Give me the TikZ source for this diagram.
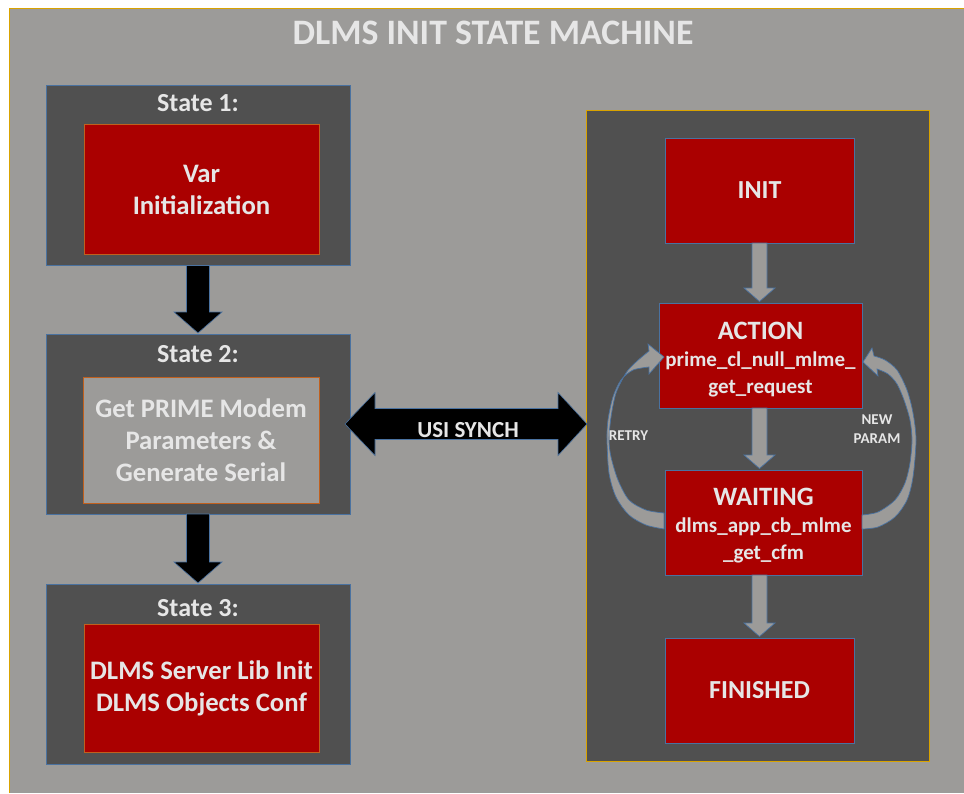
\documentclass[tikz,border=0pt]{standalone}
\usepackage{fontspec}
\setmainfont{Carlito}
\usetikzlibrary{calc}
\definecolor{bggray}{HTML}{9C9B99}
\definecolor{darkfill}{HTML}{505050}
\definecolor{boxred}{HTML}{AA0000}
\definecolor{txtgray}{HTML}{E6E6E6}
\definecolor{bord}{HTML}{4A72A0}
\definecolor{orng}{HTML}{C0601E}
\definecolor{gold}{HTML}{D9A300}
\newcommand\fsz[2]{\fontsize{#1}{#2}\selectfont\bfseries}
\newcommand\blkdown[2]{\path[blkarrow] let \p1=(#1.south), \p2=(#2.north) in
  (\x1-11.5pt,\y1) -- (\x1-11.5pt,\y2+22pt) -- (\x1-24pt,\y2+22pt) -- (\x1,\y2+1pt)
  -- (\x1+24pt,\y2+22pt) -- (\x1+11.5pt,\y2+22pt) -- (\x1+11.5pt,\y1) -- cycle;}
\newcommand\grydown[3]{\path[gryarrow] let \p1=(#1.south), \p2=(#2.north), \p3=(#3) in
  (\x3-7.5pt,\y1) -- (\x3-7.5pt,\y2+15pt) -- (\x3-15.5pt,\y2+15pt) -- (\x3,\y2+1.5pt)
  -- (\x3+15.5pt,\y2+15pt) -- (\x3+7.5pt,\y2+15pt) -- (\x3+7.5pt,\y1) -- cycle;}
\begin{document}
\begin{tikzpicture}[x=1pt,y=-1pt,
  statebox/.style={draw=bord,line width=0.8pt,fill=darkfill,inner sep=0pt,outer sep=0pt,
    minimum width=304pt,minimum height=180pt},
  innerred/.style={draw=orng,line width=0.7pt,fill=boxred,inner sep=0pt,outer sep=0pt,
    minimum width=235pt,minimum height=130pt,text=txtgray,align=center,font=\fsz{26.7}{32}},
  innergray/.style={draw=orng,line width=0.7pt,fill=bggray,inner sep=0pt,outer sep=0pt,
    minimum width=236pt,minimum height=126pt,text=txtgray,align=center,font=\fsz{26.7}{32}},
  staterd/.style={draw=bord,line width=0.7pt,fill=boxred,inner sep=0pt,outer sep=0pt,
    minimum height=105pt,text=txtgray,align=center,font=\fsz{21}{26.5}},
  lbl/.style={text=txtgray,font=\fsz{26}{32},inner sep=0pt,anchor=base},
  blkarrow/.style={fill=black,draw=bord,line width=0.6pt},
  gryarrow/.style={fill=bggray,draw=bord,line width=0.7pt},
  curvarrow/.style={fill=bggray,draw=bord,line width=0.7pt},
  small/.style={text=txtgray,font=\fsz{15}{19},align=center,inner sep=0pt}]
\useasboundingbox (0,0) rectangle (964,793);
\fill[white] (0,0) rectangle (964,793);
\fill[bggray] (9,8) rectangle (964,793);
\draw[gold,line width=0.9pt] (9,793) -- (9,8) -- (964,8);
\node[text=txtgray,font=\fsz{35.8}{40},inner sep=0pt,anchor=base] (title) at (493,44) {DLMS INIT STATE MACHINE};
% left column
\node[statebox] (s1) at (198,175.5) {};
\node[statebox] (s2) at (198,424) {};
\node[statebox] (s3) at (198,674) {};
\node[lbl] (l1) at (198,111) {State 1:};
\node[lbl] (l2) at (198,362) {State 2:};
\node[lbl] (l3) at (198,616) {State 3:};
\node[innerred] (i1) at (201.5,189.5) {Var\\Initialization};
\node[innergray] (i2) at (201,440) {Get PRIME Modem\\Parameters \&\\Generate Serial};
\node[innerred, minimum height=128pt] (i3) at (201.5,688) {DLMS Server Lib Init\\DLMS Objects Conf};
\blkdown{s1}{s2}
\blkdown{s2}{s3}
% right column
\node[draw=gold,line width=1pt,fill=darkfill,minimum width=343pt,minimum height=651pt,inner sep=0pt,outer sep=0pt] (rbox) at (757.5,435.5) {};
\node[staterd,minimum width=189pt,font=\fsz{26}{32}] (init) at (759.5,190.5) {INIT};
\node[staterd,minimum width=203pt] (act) at (760.5,355.5) {{\fontsize{26.5}{26.5}\selectfont\rule{0pt}{25.6pt}ACTION}\\[0.5pt]prime\_cl\_null\_mlme\_\\get\_request};
\node[staterd,minimum width=197pt] (wait) at (763.5,522.5) {{\fontsize{26.5}{26.5}\selectfont\rule{0pt}{23.5pt}WAITING}\\[1pt]dlms\_app\_cb\_mlme\\\_get\_cfm};
\node[staterd,minimum width=189pt,font=\fsz{26}{32}] (fin) at (759.5,690.5) {FINISHED};
\grydown{init}{act}{init}
\grydown{act}{wait}{init}
\grydown{wait}{fin}{init}
% double arrow
\path[blkarrow] let \p1=(s2.east), \p2=(rbox.west) in
  (\x1-5pt,\y1) -- (\x1+25pt,\y1+31.5pt) -- (\x1+25pt,\y1+15.5pt) -- (\x2-28pt,\y1+15.5pt)
  -- (\x2-28pt,\y1+31.5pt) -- (\x2+1pt,\y1) -- (\x2-28pt,\y1-31.5pt) -- (\x2-28pt,\y1-15.5pt)
  -- (\x1+25pt,\y1-15.5pt) -- (\x1+25pt,\y1-31.5pt) -- cycle;
\node[text=txtgray,font=\fsz{23}{28},inner sep=0pt] (usi) at ($(s2.east)!0.5!(rbox.west)$) {USI SYNCH};
% curved arrows
\path[curvarrow] plot[smooth] coordinates {
  ([shift={(wait.west)}]-1,6.5) ([shift={(wait.west)}]-19,2.5) ([shift={(wait.west)}]-36,-7.5)
  ([shift={(wait.west)}]-49,-25.5) ([shift={(wait.west)}]-56,-49.5) ([shift={(wait.west)}]-58,-82.5)
  ([shift={(act.west)}]-51,64.5) ([shift={(act.west)}]-46,41.5) ([shift={(act.west)}]-38,24.5)
  ([shift={(act.west)}]-26,14.5) ([shift={(act.west)}]-10,11.5)}
  -- ([shift={(act.west)}]-10,18.5) -- ([shift={(act.west)}]5,1.5) -- ([shift={(act.west)}]-11,-11.5)
  -- ([shift={(act.west)}]-10,-4.5)
  -- plot[smooth] coordinates {
  ([shift={(act.west)}]-10,-4.5) ([shift={(act.west)}]-23,6.5) ([shift={(act.west)}]-33,17.5)
  ([shift={(act.west)}]-43,37.5) ([shift={(act.west)}]-48,61.5) ([shift={(wait.west)}]-56,-82.5)
  ([shift={(wait.west)}]-54,-65.5) ([shift={(wait.west)}]-47,-42.5) ([shift={(wait.west)}]-36,-22.5)
  ([shift={(wait.west)}]-19,-12.5) ([shift={(wait.west)}]-1,-9.5)} -- cycle;
\path[curvarrow] plot[smooth] coordinates {
  ([shift={(wait.east)}]0,6.5) ([shift={(wait.east)}]16,4.5) ([shift={(wait.east)}]33,-5.5)
  ([shift={(wait.east)}]45,-22.5) ([shift={(wait.east)}]51,-45.5) ([shift={(wait.east)}]54,-82.5)
  ([shift={(act.east)}]51,57.5) ([shift={(act.east)}]45,34.5) ([shift={(act.east)}]35,14.5)
  ([shift={(act.east)}]23,4.5) ([shift={(act.east)}]12,0.5)}
  -- ([shift={(act.east)}]10,-7.5) -- ([shift={(act.east)}]1,6.5) -- ([shift={(act.east)}]16,20.5)
  -- ([shift={(act.east)}]15,13.5)
  -- plot[smooth] coordinates {
  ([shift={(act.east)}]15,13.5) ([shift={(act.east)}]26,18.5) ([shift={(act.east)}]35,28.5)
  ([shift={(act.east)}]42,44.5) ([shift={(act.east)}]48,64.5) ([shift={(wait.east)}]50,-82.5)
  ([shift={(wait.east)}]48,-59.5) ([shift={(wait.east)}]43,-39.5) ([shift={(wait.east)}]33,-22.5)
  ([shift={(wait.east)}]16,-10.5) ([shift={(wait.east)}]0,-7.5)} -- cycle;
\node[small] (retry) at (628.5,436) {RETRY};
\node[small] (newp) at (877,429.5) {NEW\\PARAM};
\end{tikzpicture}
\end{document}
